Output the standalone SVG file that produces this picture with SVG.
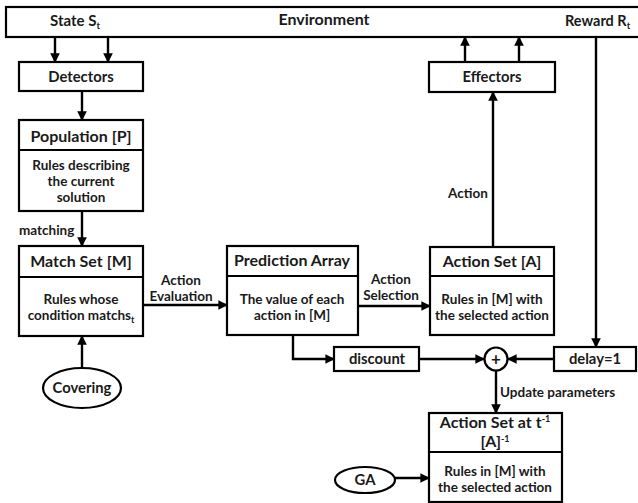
<svg xmlns="http://www.w3.org/2000/svg" width="638" height="503" viewBox="0 0 638 503">
<defs>
<marker id="ah" viewBox="0 0 10 10" refX="9" refY="5" markerWidth="4" markerHeight="4" orient="auto" markerUnits="strokeWidth">
<path d="M0,0 L10,5 L0,10 z" fill="#000"/>
</marker>
<style>
.box{fill:#fff;stroke:#000;stroke-width:2.2}
.ln{fill:none;stroke:#000;stroke-width:2}
.arr{fill:none;stroke:#000;stroke-width:2.4;marker-end:url(#ah)}
text{font-family:Lato,"Open Sans","Liberation Sans",sans-serif;font-weight:bold;fill:#1a1a1a}
.t{font-size:16px;text-anchor:middle}
.s{font-size:14.8px;text-anchor:middle}
.b{font-size:13.5px;text-anchor:middle}
.l{font-size:13.5px}
</style>
</defs>
<rect width="638" height="503" fill="#fff"/>

<g id="environment">
<rect class="box" x="6" y="7" width="640" height="30"/>
<text x="50" y="26" style="font-size:15px">State S<tspan font-size="9.5" dy="3">t</tspan></text>
<text class="t" x="324" y="25">Environment</text>
<text x="565" y="26" style="font-size:14.5px">Reward R<tspan font-size="9.5" dy="3">t</tspan></text>
</g>

<g id="detectors">
<rect class="box" x="19" y="62" width="124" height="29"/>
<text class="s" x="81" y="82">Detectors</text>
</g>

<g id="population">
<rect class="box" x="19" y="120" width="124" height="91"/>
<line class="ln" x1="19" y1="150" x2="143" y2="150"/>
<text class="t" x="81" y="142">Population [P]</text>
<text class="b" x="81" y="170">Rules describing</text>
<text class="b" x="81" y="186">the current</text>
<text class="b" x="81" y="202">solution</text>
</g>

<g id="matchset">
<rect class="box" x="19" y="246" width="124" height="90"/>
<line class="ln" x1="19" y1="277" x2="143" y2="277"/>
<text class="t" x="81" y="267">Match Set [M]</text>
<text class="b" x="81" y="304">Rules whose</text>
<text class="b" x="81" y="320">condition matchs<tspan font-size="9" dy="3">t</tspan></text>
</g>

<g id="covering">
<ellipse cx="82" cy="388" rx="39" ry="20" fill="#fff" stroke="#000" stroke-width="2.2"/>
<text class="s" x="82" y="393">Covering</text>
</g>

<g id="prediction">
<rect class="box" x="227" y="246" width="131" height="89"/>
<line class="ln" x1="227" y1="276" x2="358" y2="276"/>
<text class="t" x="292" y="266">Prediction Array</text>
<text class="b" x="292" y="304">The value of each</text>
<text class="b" x="292" y="320">action in [M]</text>
</g>

<g id="actionset">
<rect class="box" x="430" y="247" width="124" height="88"/>
<line class="ln" x1="430" y1="276" x2="554" y2="276"/>
<text class="t" x="492" y="267">Action Set [A]</text>
<text class="b" x="492" y="304">Rules in [M] with</text>
<text class="b" x="492" y="320">the selected action</text>
</g>

<g id="effectors">
<rect class="box" x="429" y="62" width="126" height="30"/>
<text class="s" x="492" y="82">Effectors</text>
</g>

<g id="discount">
<rect class="box" x="334" y="347" width="85" height="24"/>
<text class="s" x="377" y="364">discount</text>
</g>

<g id="delay">
<rect class="box" x="554" y="347" width="82" height="24"/>
<text class="s" x="595" y="364">delay=1</text>
</g>

<g id="sum">
<circle cx="496" cy="359" r="11.5" fill="#fff" stroke="#000" stroke-width="2.2"/>
<text x="496" y="365" style="font-size:17px;text-anchor:middle">+</text>
</g>

<g id="prevaction">
<rect class="box" x="429" y="413" width="133" height="89"/>
<line class="ln" x1="429" y1="452" x2="562" y2="452"/>
<text class="t" x="495" y="428">Action Set at t<tspan font-size="9" dy="-6">-1</tspan></text>
<text class="t" x="495" y="447">[A]<tspan font-size="9" dy="-5">-1</tspan></text>
<text class="b" x="495" y="476">Rules in [M] with</text>
<text class="b" x="495" y="492">the selected action</text>
</g>

<g id="ga">
<ellipse cx="365" cy="480" rx="30" ry="13" fill="#fff" stroke="#000" stroke-width="2.2"/>
<text class="s" x="365" y="485">GA</text>
</g>

<g id="connectors">
<line class="arr" x1="55" y1="37" x2="55" y2="62"/>
<line class="arr" x1="108" y1="37" x2="108" y2="62"/>
<line class="arr" x1="82" y1="91" x2="82" y2="120"/>
<line class="arr" x1="82" y1="211" x2="82" y2="246"/>
<text class="l" x="19" y="235">matching</text>
<line class="arr" x1="82" y1="368" x2="82" y2="336"/>
<line class="arr" x1="143" y1="305" x2="227" y2="305"/>
<text class="b" x="181" y="285">Action</text>
<text class="b" x="181" y="301">Evaluation</text>
<line class="arr" x1="358" y1="306" x2="430" y2="306"/>
<text class="b" x="391" y="284">Action</text>
<text class="b" x="391" y="300">Selection</text>
<line class="arr" x1="493" y1="247" x2="493" y2="92"/>
<text class="l" x="448" y="198">Action</text>
<line class="arr" x1="465" y1="62" x2="465" y2="37"/>
<line class="arr" x1="519" y1="62" x2="519" y2="37"/>
<line class="arr" x1="596" y1="37" x2="596" y2="347"/>
<polyline class="arr" points="293,335 293,359 334,359"/>
<line class="arr" x1="419" y1="359" x2="484" y2="359"/>
<line class="arr" x1="554" y1="359" x2="508" y2="359"/>
<line class="arr" x1="496" y1="371" x2="496" y2="413"/>
<text class="l" x="500" y="397">Update parameters</text>
<line class="arr" x1="395" y1="478" x2="429" y2="478"/>
</g>
</svg>
